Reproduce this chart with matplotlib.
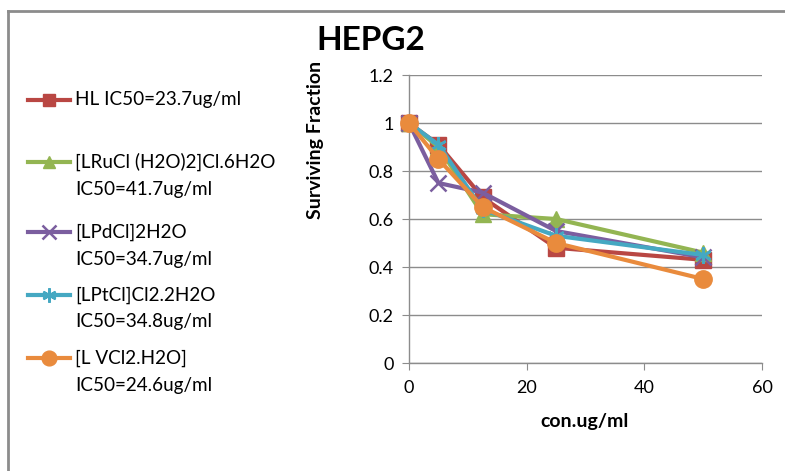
import matplotlib
matplotlib.use("Agg")
import matplotlib.pyplot as plt
from matplotlib.lines import Line2D

plt.rcParams['font.family'] = ['Lato', 'DejaVu Sans']

conc = [0, 5, 12.5, 25, 50]
series_names = [
    "HL IC50=23.7ug/ml",
    "[LRuCl (H2O)2]Cl.6H2O\nIC50=41.7ug/ml",
    "[LPdCl]2H2O\nIC50=34.7ug/ml",
    "[LPtCl]Cl2.2H2O\nIC50=34.8ug/ml",
    "[L VCl2.H2O]\nIC50=24.6ug/ml",
]
hl = [1.0, 0.91, 0.69, 0.48, 0.43]
ru = [1.0, 0.90, 0.62, 0.60, 0.46]
pd_ = [1.0, 0.75, 0.71, 0.55, 0.44]
pt = [1.0, 0.91, 0.64, 0.53, 0.45]
v = [1.0, 0.85, 0.65, 0.50, 0.35]
values = [hl, ru, pd_, pt, v]

colors = ["#B94743", "#93B552", "#7B5E9F", "#45A8C2", "#E98B3D"]
markers = ["s", "^", "x", (6, 2, 0), "o"]
msizes = [11, 11, 12, 12, 12.5]
mews = [1, 1, 1.8, 1.8, 1]

W, H = 785, 471
fig = plt.figure(figsize=(W / 100, H / 100), dpi=100)
ax = fig.add_axes([409 / W, 1 - 363 / H, (762 - 409) / W, (363 - 75) / H])

for vals, c, m, ms, mew in zip(values, colors, markers, msizes, mews):
    ax.plot(conc, vals, color=c, lw=3, marker=m, markersize=ms,
            markerfacecolor=c, markeredgecolor=c, markeredgewidth=mew,
            clip_on=False, zorder=3)

ax.set_xlim(0, 60)
ax.set_ylim(0, 1.2)
ax.set_xticks([0, 20, 40, 60])
ax.set_yticks([0, 0.2, 0.4, 0.6, 0.8, 1.0, 1.2])
ax.set_yticklabels(["0", "0.2", "0.4", "0.6", "0.8", "1", "1.2"])
ax.grid(axis="y", color="#8c8c8c", lw=1)
ax.set_axisbelow(True)
for s in ["top", "right"]:
    ax.spines[s].set_visible(False)
for s in ["left", "bottom"]:
    ax.spines[s].set_color("#8c8c8c")
    ax.spines[s].set_linewidth(1)
ax.tick_params(axis="both", direction="out", length=5, color="#8c8c8c",
               labelsize=13, colors="#8c8c8c", labelcolor="black")
ax.tick_params(axis="y", pad=6)
ax.tick_params(axis="x", pad=7)

# titles
fig.text(371 / W, 1 - 40 / H, "HEPG2", ha="center", va="center",
         fontsize=24, fontweight="bold")
fig.text(315 / W, 1 - 140 / H, "Surviving Fraction", ha="center", va="center",
         rotation=90, fontsize=14, fontweight="bold")
fig.text(585 / W, 1 - 422 / H, "con.ug/ml", ha="center", va="center",
         fontsize=14, fontweight="bold")

# legend (manual, Excel style: handle aligned with first text line)
legend_y = [100, 162, 232, 295, 358]
line_gap = 27
for name, c, m, ms, mew, yy in zip(series_names, colors, markers, msizes, mews, legend_y):
    yf = 1 - yy / H
    fig.add_artist(Line2D([28 / W, 70 / W], [yf, yf], color=c, lw=3))
    fig.add_artist(Line2D([49 / W], [yf], color=c, marker=m, markersize=ms * 0.85,
                          markerfacecolor=c, markeredgecolor=c, markeredgewidth=mew))
    for i, part in enumerate(name.split("\n")):
        fig.text(75 / W, 1 - (yy + i * line_gap) / H, part, ha="left",
                 va="center", fontsize=13.6)

# outer chart border (left and top visible)
fig.add_artist(Line2D([7.5 / W, 7.5 / W], [0, 1 - 11 / H], color="#8c8c8c", lw=2))
fig.add_artist(Line2D([7.5 / W, 1], [1 - 11 / H, 1 - 11 / H], color="#8c8c8c", lw=2))

fig.savefig("out.png", dpi=100)
